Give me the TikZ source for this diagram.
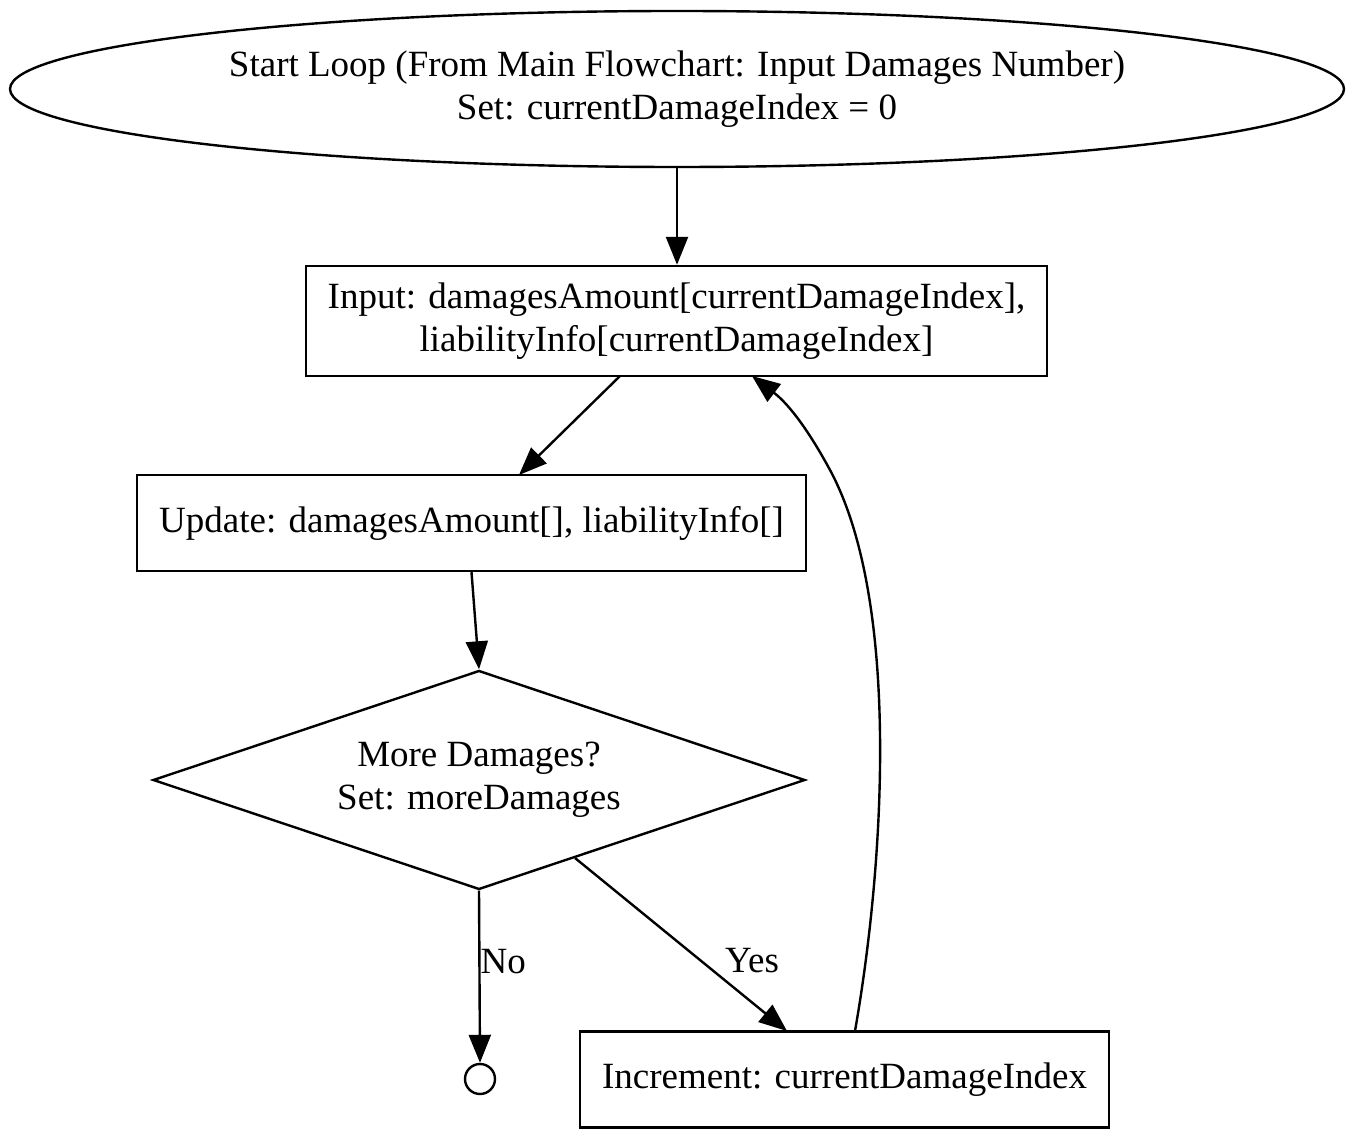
\documentclass[tikz,border=0pt]{standalone}
\usepackage{fontspec}
\setmainfont{Liberation Serif}
\usetikzlibrary{shapes.geometric,arrows.meta}
\begin{document}
\begin{tikzpicture}[x=0.5pt,y=-0.5pt,
  every node/.style={font=\fontsize{18.5}{21.5}\selectfont, align=center, inner sep=0pt},
  box/.style={draw, line width=1.2pt, rectangle},
  arr/.style={line width=1.2pt, -{Triangle[length=14pt,width=11pt]}},
  lbl/.style={font=\fontsize{18.5}{20}\selectfont}]
\useasboundingbox (0,0) rectangle (1354,1138);
\node[draw, line width=1.2pt, ellipse, minimum width=667pt, minimum height=78pt] (start) at (677,89)
  {Start Loop (From Main Flowchart: Input Damages Number)\\Set: currentDamageIndex = 0};
\node[box, minimum width=370.5pt, minimum height=55pt] (in1) at (676.5,321)
  {Input: damagesAmount[currentDamageIndex],\\liabilityInfo[currentDamageIndex]};
\node[box, minimum width=334.5pt, minimum height=48pt] (upd) at (471.5,523)
  {Update: damagesAmount[], liabilityInfo[]};
\node[draw, line width=1.2pt, diamond, shape aspect=3, minimum width=326pt, minimum height=109.5pt] (dec) at (479,780)
  {More Damages?\\Set: moreDamages};
\node[draw, line width=1.2pt, circle, minimum size=15pt] (fin) at (480,1079) {};
\node[box, minimum width=264.5pt, minimum height=48pt] (inc) at (844.5,1079.5)
  {Increment: currentDamageIndex};
\coordinate (a1) at (620,376);
\coordinate (a2) at (519,475);
\coordinate (y1) at (575,858);
\coordinate (y2) at (787,1031);
\coordinate (c1) at (855,1031);
\coordinate (c2) at (830,470);
\coordinate (c3) at (752,376);
\draw[arr] (start.south) -- (start.south |- in1.north);
\draw[arr] (a1) -- (a2);
\draw[arr] (upd.south) -- (dec.north);
\draw[arr] (dec.south) -- node[lbl, anchor=west, pos=0.41] {No} (fin.north);
\draw[arr] (y1) -- node[lbl, pos=0.5, xshift=35.5pt, yshift=-8.25pt] {Yes} (y2);
\draw[arr] (c1) .. controls (885,860) and (900,600) .. (c2) .. controls (810,433) and (790,405) .. (c3);
\end{tikzpicture}
\end{document}
